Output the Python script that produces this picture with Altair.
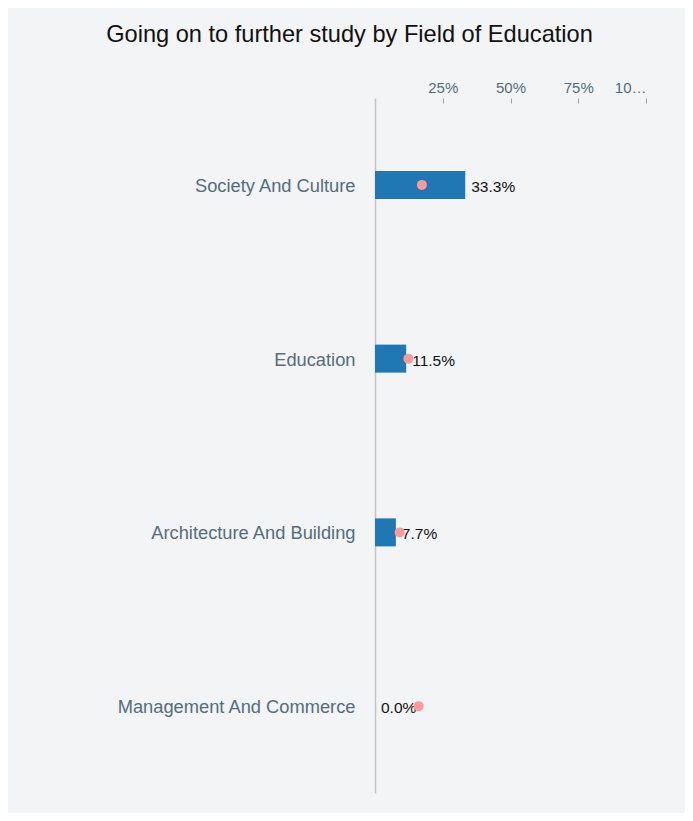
import altair as alt
import pandas as pd

fields = ["Society And Culture", "Education", "Architecture And Building", "Management And Commerce"]
rates = [0.333, 0.115, 0.077, 0.0]
benchmark = [0.173, 0.123, 0.091, 0.161]
x_ticks = [0.25, 0.5, 0.75, 1.0]

df = pd.DataFrame({"field": fields, "rate": rates, "benchmark": benchmark})

y_enc = alt.Y(
    "field:N",
    sort=None,
    title=None,
    scale=alt.Scale(paddingInner=0, paddingOuter=0),
    axis=alt.Axis(
        ticks=False,
        labelPadding=20,
        labelFontSize=18.3,
        labelColor="#546e7a",
        labelFont="Liberation Sans",
        labelOffset=2,
        domainColor="#c4c4c4",
        domainWidth=1.5,
        labelLimit=300,
    ),
)

x_enc = alt.X(
    "rate:Q",
    title=None,
    scale=alt.Scale(domain=[0, 1]),
    axis=alt.Axis(
        orient="top",
        format=".0%",
        values=x_ticks,
        domain=False,
        grid=False,
        tickSize=5,
        tickColor="#9aa5ab",
        offset=-5,
        labelFontSize=15,
        labelColor="#546e7a",
        labelFont="Liberation Sans",
        labelLimit=32,
        labelPadding=3,
    ),
)

bars = alt.Chart(df).mark_bar(size=28, color="#1f77b4").encode(x=x_enc, y=y_enc)

labels = alt.Chart(df).mark_text(
    align="left", baseline="middle", dx=6, dy=2, fontSize=15.5, color="#111111", font="Liberation Sans"
).encode(
    x=alt.X("rate:Q"),
    y=alt.Y("field:N", sort=None),
    text=alt.Text("rate:Q", format=".1%"),
)

dots = alt.Chart(df).mark_point(
    filled=True, size=100, color="#ff9896", opacity=1
).encode(
    x=alt.X("benchmark:Q"),
    y=alt.Y("field:N", sort=None),
)

chart = (
    alt.layer(bars, labels, dots)
    .properties(
        width=271,
        height=695,
        title=alt.TitleParams(
            "Going on to further study by Field of Education",
            fontSize=23.6,
            font="Liberation Sans",
            fontWeight="normal",
            color="#111111",
            anchor="middle",
            frame="group",
            dx=-161,
            offset=33,
        ),
        autosize=alt.AutoSizeParams(type="none"),
        padding={"left": 367, "top": 90, "right": 39, "bottom": 20},
    )
    .configure(background="#f3f4f6")
    .configure_view(stroke=None)
)

chart.save("out.html", embed_options={"renderer": "svg", "actions": False})
